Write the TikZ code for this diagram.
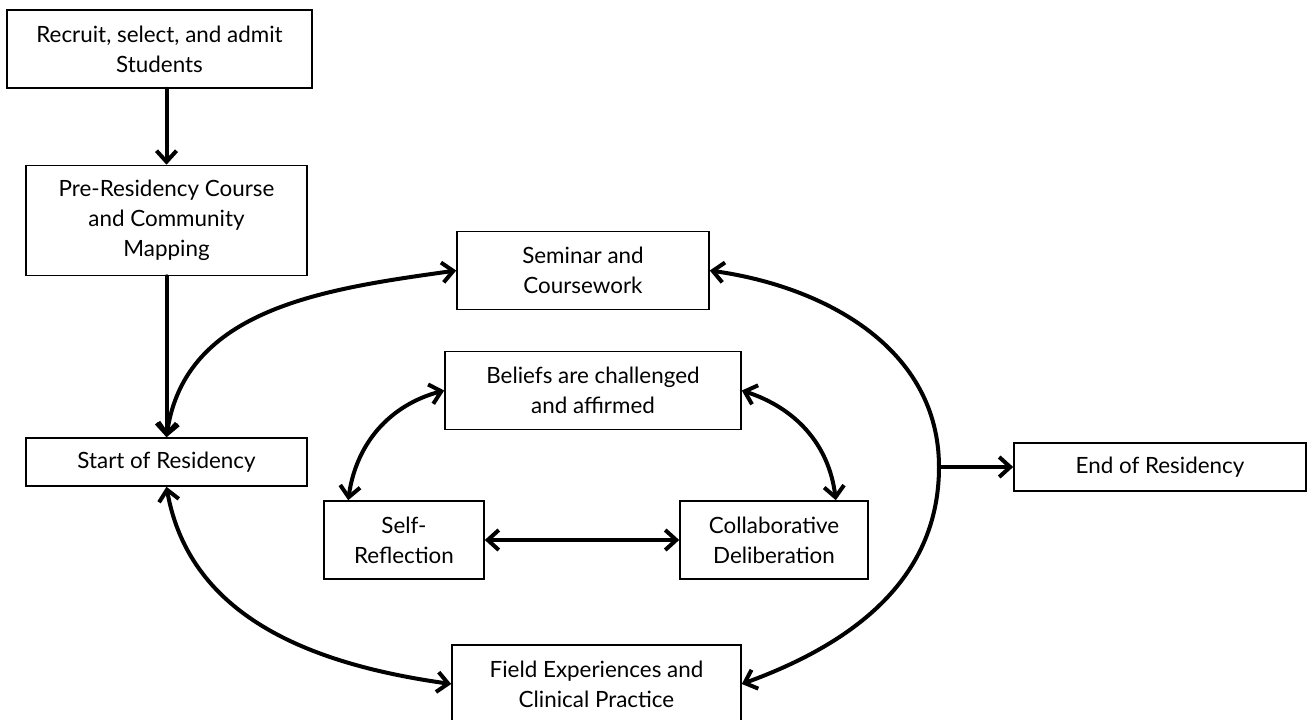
\documentclass[tikz,border=0pt]{standalone}
\usepackage{fontspec}
\setmainfont{Lato}
\usetikzlibrary{arrows.meta, positioning}

\begin{document}
\begin{tikzpicture}[x=0.5pt, y=0.5pt,
    font=\fontsize{11.2}{15}\selectfont,
    >={Straight Barb[length=5.5pt,width=10pt]},
    blk/.style={draw, line width=0.8pt, align=center, inner sep=2pt, minimum height=39pt},
    link/.style={line width=2pt, line cap=round, line join=round}
]
\useasboundingbox (0,0) rectangle (1314,-719);

\node[blk, minimum width=152.5pt] (rec) at (159.5,-49) {Recruit, select, and admit\\Students};
\node[blk, minimum width=140.5pt, minimum height=55pt] (pre) at (166.5,-220.5) {Pre-Residency Course\\and Community\\Mapping};
\node[blk, minimum width=140.5pt, minimum height=24pt] (start) at (166.5,-462) {Start of Residency};

\node[blk, minimum width=126pt] (sem) at (583,-270.5) {Seminar and\\Coursework};
\node[blk, minimum width=148pt] (bel) at (593,-390.5) {Beliefs are challenged\\and affirmed};
\node[blk, minimum width=80pt] (self) at (404,-540) {Self-\\Reflection};
\node[blk, minimum width=94pt] (collab) at (774,-540) {Collaborative\\Deliberation};
\node[blk, minimum width=144.5pt] (field) at (596.5,-684) {Field Experiences and\\Clinical Practice};

\node[blk, minimum width=146pt, minimum height=24pt] (endres) at (1160,-467) {End of Residency};

\coordinate (turn) at (939,-467);

% Arrows
\draw[link, ->] (rec.south -| pre.north) -- (pre.north);
\draw[link, ->] (pre) -- (start);
\draw[link, <->] (start.north) to[out=82, in=188] (sem.west);
\draw[link, <->] (start.south) to[out=-80, in=172] (field.west);
\draw[link, <->] (sem.east) to[out=-8, in=90] (turn) to[out=-90, in=20] (field.east);
\draw[link, ->] (turn) -- (endres.west);

\draw[link, <->] (bel.west) to[out=195, in=82] ([xshift=12.5pt]self.north west);
\draw[link, <->] (bel.east) to[out=-18, in=97] ([xshift=-16.5pt]collab.north east);
\draw[link, <->] (self.east) -- (collab.west);
\end{tikzpicture}
\end{document}
